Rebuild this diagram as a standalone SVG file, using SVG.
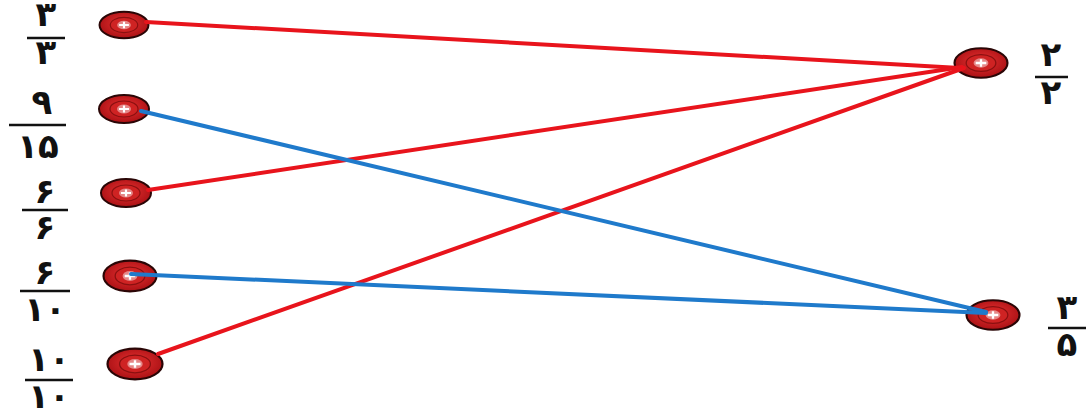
<svg xmlns="http://www.w3.org/2000/svg" xmlns:xlink="http://www.w3.org/1999/xlink" width="1089" height="419" viewBox="0 0 1089 419">
<style>
.lbl{font-family:"DejaVu Sans","Noto Sans",sans-serif;font-weight:bold;font-size:34px;fill:#111;text-anchor:middle}
.bar{stroke:#111;stroke-width:2.5}
.red{stroke:#e8141c;stroke-width:4;fill:none;stroke-linecap:round}
.blue{stroke:#1f7acb;stroke-width:4;fill:none;stroke-linecap:round}
</style>
<defs>
<radialGradient id="g" cx="0.5" cy="0.45" r="0.6">
<stop offset="0" stop-color="#e83232"/>
<stop offset="1" stop-color="#a50e12"/>
</radialGradient>
<g id="btn">
<ellipse cx="0" cy="0" rx="25" ry="14" fill="url(#g)" stroke="#2a0606" stroke-width="2"/>
<ellipse cx="0" cy="0" rx="14" ry="8" fill="#cf2323" stroke="#8a1010" stroke-width="1.2"/>
<ellipse cx="0" cy="0" rx="7" ry="4.5" fill="#f3caca" opacity="0.6"/>
<path d="M-5 0H5M0 -3.5V3.5" stroke="#fff" stroke-width="2.2"/>
</g>
</defs>
<rect width="1089" height="419" fill="#fff"/>
<g id="n1"><use xlink:href="#btn" transform="translate(124,25) scale(0.98,0.95)"/></g>
<g id="n2"><use xlink:href="#btn" transform="translate(124,109)"/></g>
<g id="n3"><use xlink:href="#btn" transform="translate(126,193)"/></g>
<g id="n4"><use xlink:href="#btn" transform="translate(130,276) scale(1.06,1.1)"/></g>
<g id="n5"><use xlink:href="#btn" transform="translate(135,364) scale(1.1,1.1)"/></g>
<g id="r1"><use xlink:href="#btn" transform="translate(981,63) scale(1.06,1.05)"/></g>
<g id="r2"><use xlink:href="#btn" transform="translate(993,315) scale(1.06,1.05)"/></g>
<g id="connectors">
<line class="red" x1="146" y1="22" x2="960" y2="68"/>
<line class="red" x1="148" y1="190" x2="962" y2="67"/>
<line class="red" x1="158" y1="354" x2="964" y2="68"/>
<line class="blue" x1="141" y1="111" x2="986" y2="312"/>
<line class="blue" x1="131" y1="274" x2="986" y2="313"/>
</g>
<g id="labels">
<g id="f1"><text class="lbl" x="46" y="26">۳</text><line class="bar" x1="27" y1="38" x2="65" y2="38"/><text class="lbl" x="46" y="64">۳</text></g>
<g id="f2"><text class="lbl" x="42" y="114">۹</text><line class="bar" x1="9" y1="125" x2="66" y2="125"/><text class="lbl" x="38" y="158">۱۵</text></g>
<g id="f3"><text class="lbl" x="45" y="203">۶</text><line class="bar" x1="22" y1="210" x2="68" y2="210"/><text class="lbl" x="45" y="239">۶</text></g>
<g id="f4"><text class="lbl" x="45" y="284">۶</text><line class="bar" x1="20" y1="291" x2="70" y2="291"/><text class="lbl" x="45" y="321">۱۰</text></g>
<g id="f5"><text class="lbl" x="49" y="371">۱۰</text><line class="bar" x1="25" y1="380" x2="73" y2="380"/><text class="lbl" x="49" y="408">۱۰</text></g>
<g id="f6"><text class="lbl" x="1051" y="66">۲</text><line class="bar" x1="1035" y1="77" x2="1068" y2="77"/><text class="lbl" x="1051" y="104">۲</text></g>
<g id="f7"><text class="lbl" x="1067" y="319">۳</text><line class="bar" x1="1048" y1="328" x2="1086" y2="328"/><text class="lbl" x="1067" y="356">۵</text></g>
</g>
</svg>
